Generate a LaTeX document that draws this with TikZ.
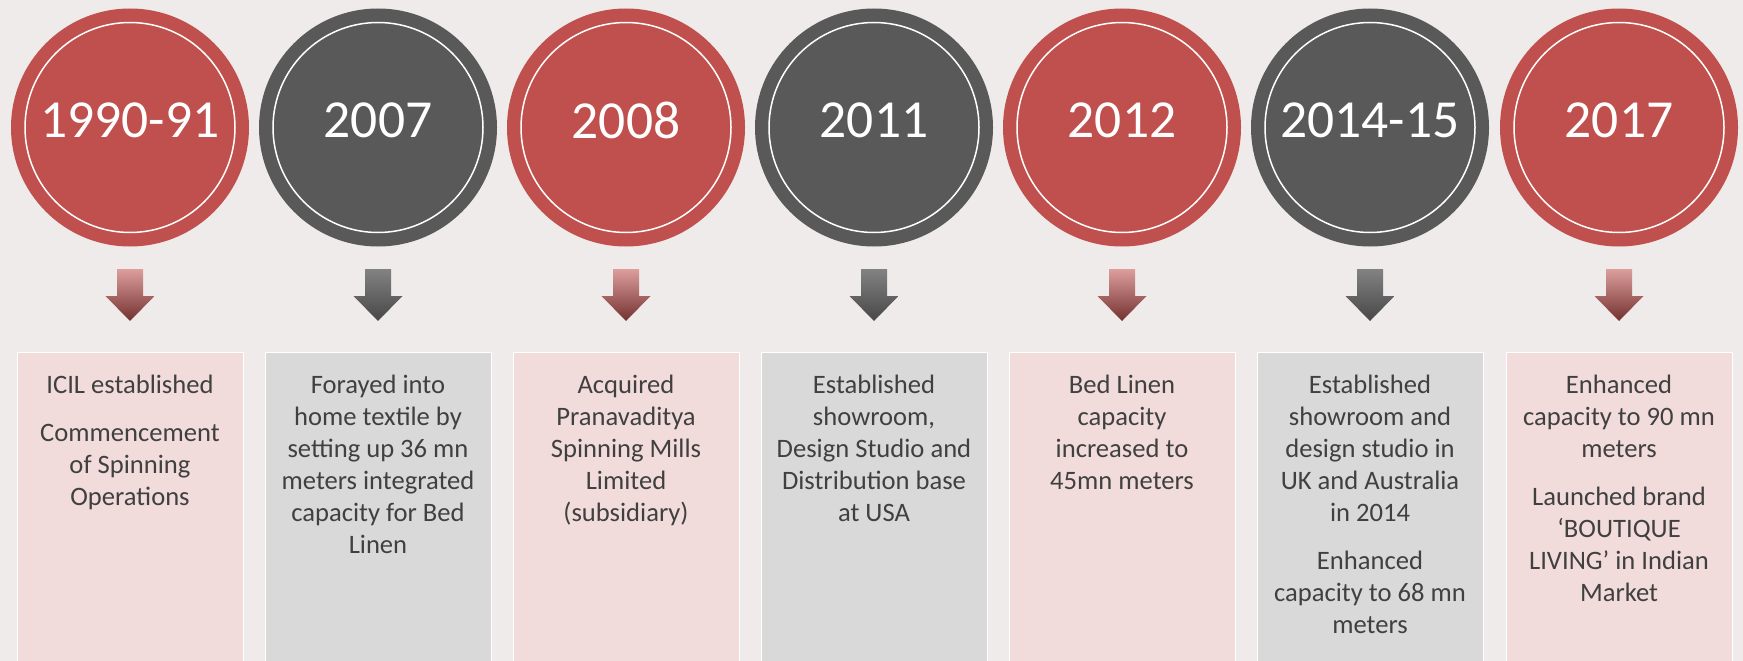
\documentclass[tikz,border=0pt]{standalone}
\usepackage{fontspec}
\setmainfont{Carlito}
\definecolor{circred}{HTML}{C0504D}
\definecolor{circgray}{HTML}{595959}
\definecolor{boxred}{HTML}{F2DCDB}
\definecolor{boxgray}{HTML}{D9D9D9}
\definecolor{txtcol}{HTML}{404040}
\definecolor{bgcol}{HTML}{EFEBEA}
\tikzset{
  yearcirc/.style={circle, minimum size=238pt, inner sep=0pt},
  ringcirc/.style={circle, draw=white, line width=1.5pt, minimum size=210pt, inner sep=0pt},
  yeartext/.style={inner sep=0pt, text=white, font=\fontsize{53.5}{60}\selectfont},
  infobox/.style={anchor=north, minimum width=226pt, minimum height=330pt, draw=white, line width=0.8pt, inner sep=0pt},
  infotext/.style={anchor=north, align=center, text=txtcol, font=\fontsize{26.6}{32}\selectfont, inner sep=0pt},
  arrowred/.style={top color=circred!55!white, middle color=circred, bottom color=circred!60!black},
  arrowgray/.style={top color=circgray!75!white, bottom color=circgray!80!black},
}
\newcommand{\mstone}[5]{%
  \node[yearcirc, fill=circ#3] (c#1) at (#2,127.5) {};
  \node[ringcirc] (r#1) at (c#1.center) {};
  \node[yeartext] (y#1) at (#2,120) {#4};
  \node[infobox, fill=box#3] (b#1) at (#2,352) {};
  \node[infotext] (t#1) at (#2,375) {#5};
  \coordinate (a#1) at (#2,269);
  \shade[arrow#3] (a#1) ++(-13,0) -- ++(26,0) -- ++(0,27) -- ++(11.5,0)
     -- ++(-24.5,25) -- ++(-24.5,-25) -- ++(11.5,0) -- cycle;
}
\begin{document}
\begin{tikzpicture}[x=1pt, y=-1pt]
\useasboundingbox (0,0) rectangle (1743,661);
\fill[bgcol] (0,0) rectangle (1743,661);
\mstone{1}{130}{red}{1990-91}{ICIL established\\[16pt]Commencement\\of Spinning\\Operations}
\mstone{2}{378}{gray}{2007}{Forayed into\\home textile by\\setting up 36 mn\\meters integrated\\capacity for Bed\\Linen}
\mstone{3}{626}{red}{2008}{Acquired\\Pranavaditya\\Spinning Mills\\Limited\\(subsidiary)}
\mstone{4}{874}{gray}{2011}{Established\\showroom,\\Design Studio and\\Distribution base\\at USA}
\mstone{5}{1122}{red}{2012}{Bed Linen\\capacity\\increased to\\45mn meters}
\mstone{6}{1370}{gray}{2014-15}{Established\\showroom and\\design studio in\\UK and Australia\\in 2014\\[16pt]Enhanced\\capacity to 68 mn\\meters}
\mstone{7}{1619}{red}{2017}{Enhanced\\capacity to 90 mn\\meters\\[16pt]Launched brand\\‘BOUTIQUE\\LIVING’ in Indian\\Market}
\end{tikzpicture}
\end{document}
